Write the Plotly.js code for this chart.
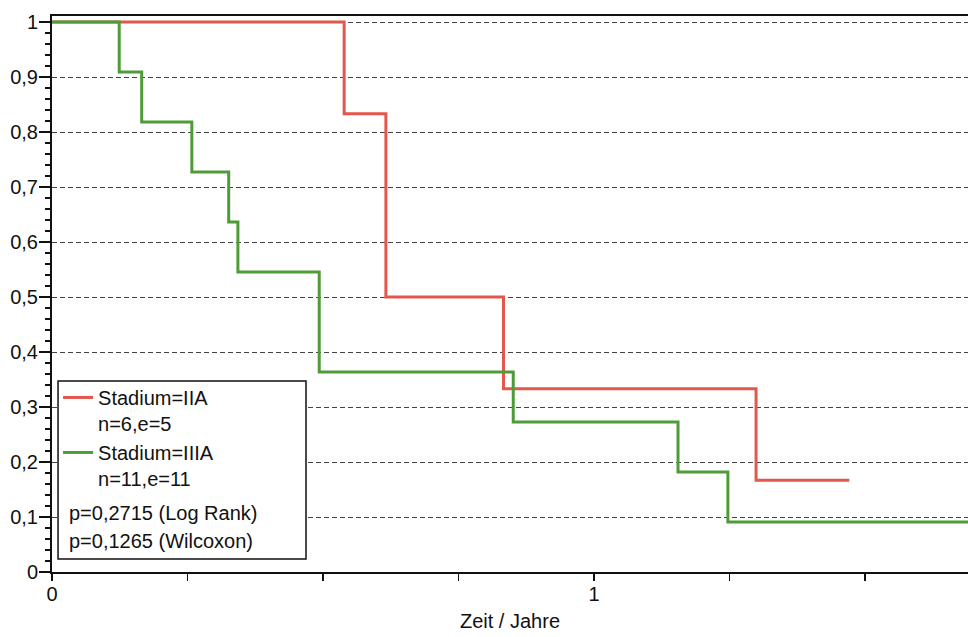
<!DOCTYPE html>
<html>
<head>
<meta charset="utf-8">
<script src="https://cdn.plot.ly/plotly-3.0.1.min.js"></script>
<style>html,body{margin:0;padding:0;background:#fff;}#chart{width:968px;height:637px;}</style>
</head>
<body>
<div id="chart"></div>
<script>
// Kaplan-Meier step data (time in years, survival probability)
const redName = "Stadium=IIA<br>n=6,e=5";
const redX = [0, 0.539, 0.616, 0.833, 1.299, 1.471];
const redY = [1, 0.8333, 0.5, 0.3333, 0.1667, 0.1667];

const greenName = "Stadium=IIIA<br>n=11,e=11";
const greenX = [0, 0.124, 0.1655, 0.258, 0.326, 0.343, 0.493, 0.851, 1.155, 1.247, 1.70];
const greenY = [1, 0.9091, 0.8182, 0.7273, 0.6364, 0.5455, 0.3636, 0.2727, 0.1818, 0.0909, 0.0909];

const pTexts = ["p=0,2715 (Log Rank)", "p=0,1265 (Wilcoxon)"];

const xTickVals = [0, 0.25, 0.5, 0.75, 1, 1.25, 1.5];
const xTickText = ["0", "", "", "", "1", "", ""];
const yTickVals = [0, 0.1, 0.2, 0.3, 0.4, 0.5, 0.6, 0.7, 0.8, 0.9, 1];
const yTickText = ["0", "0,1", "0,2", "0,3", "0,4", "0,5", "0,6", "0,7", "0,8", "0,9", "1"];
const xTitle = "Zeit / Jahre";

const FONT = "Liberation Sans, Arial, sans-serif";
const TXT = "#111";

const traces = [
  {x: redX, y: redY, name: redName, type: "scatter", mode: "lines",
   line: {shape: "hv", color: "#e4574c", width: 3}},
  {x: greenX, y: greenY, name: greenName, type: "scatter", mode: "lines",
   line: {shape: "hv", color: "#4e9c38", width: 3}}
];

const layout = {
  width: 968, height: 637,
  margin: {l: 52, r: 0, t: 16, b: 65},
  paper_bgcolor: "#fff", plot_bgcolor: "#fff",
  font: {family: FONT, size: 20, color: TXT},
  showlegend: true,
  legend: {x: 0.0066, y: 0.349, xanchor: "left", yanchor: "top",
           bgcolor: "rgba(0,0,0,0)", borderwidth: 0, valign: "top",
           font: {family: FONT, size: 20, color: TXT}},
  xaxis: {
    range: [0, 1.69], showgrid: false, zeroline: false,
    showline: true, linecolor: "#111", linewidth: 2, mirror: true,
    ticks: "outside", ticklen: 7, tickwidth: 1.5, tickcolor: "#111",
    tickvals: xTickVals, ticktext: xTickText, ticklabelstandoff: -4,
    tickfont: {family: FONT, size: 20, color: TXT},
    title: {text: xTitle, standoff: 10, font: {family: FONT, size: 20, color: TXT}}
  },
  yaxis: {
    range: [0, 1.011], zeroline: false,
    showline: true, linecolor: "#111", linewidth: 2,
    ticks: "outside", ticklen: 11, tickwidth: 1.5, tickcolor: "#111",
    tickvals: yTickVals, ticktext: yTickText, ticklabelstandoff: -3,
    tickfont: {family: FONT, size: 20, color: TXT},
    showgrid: true, gridcolor: "#444", gridwidth: 1, griddash: "5px,3px",
    minor: {ticks: "outside", ticklen: 5, tickwidth: 1.2, tickcolor: "#111", dtick: 0.02, showgrid: false}
  },
  shapes: [
    {type: "rect", xref: "paper", yref: "paper", x0: 0.0066, x1: 0.2773, y0: 0.0234, y1: 0.3435,
     line: {color: "#111", width: 1.5}, fillcolor: "#fff", layer: "above"}
  ],
  annotations: pTexts.map((t, i) => ({
    text: t, xref: "paper", yref: "paper", x: 0.0164, y: [0.1061, 0.0558][i],
    xanchor: "left", yanchor: "middle", showarrow: false,
    font: {family: FONT, size: 20, color: TXT}
  }))
};

Plotly.newPlot("chart", traces, layout, {displayModeBar: false, staticPlot: true});
</script>
</body>
</html>
